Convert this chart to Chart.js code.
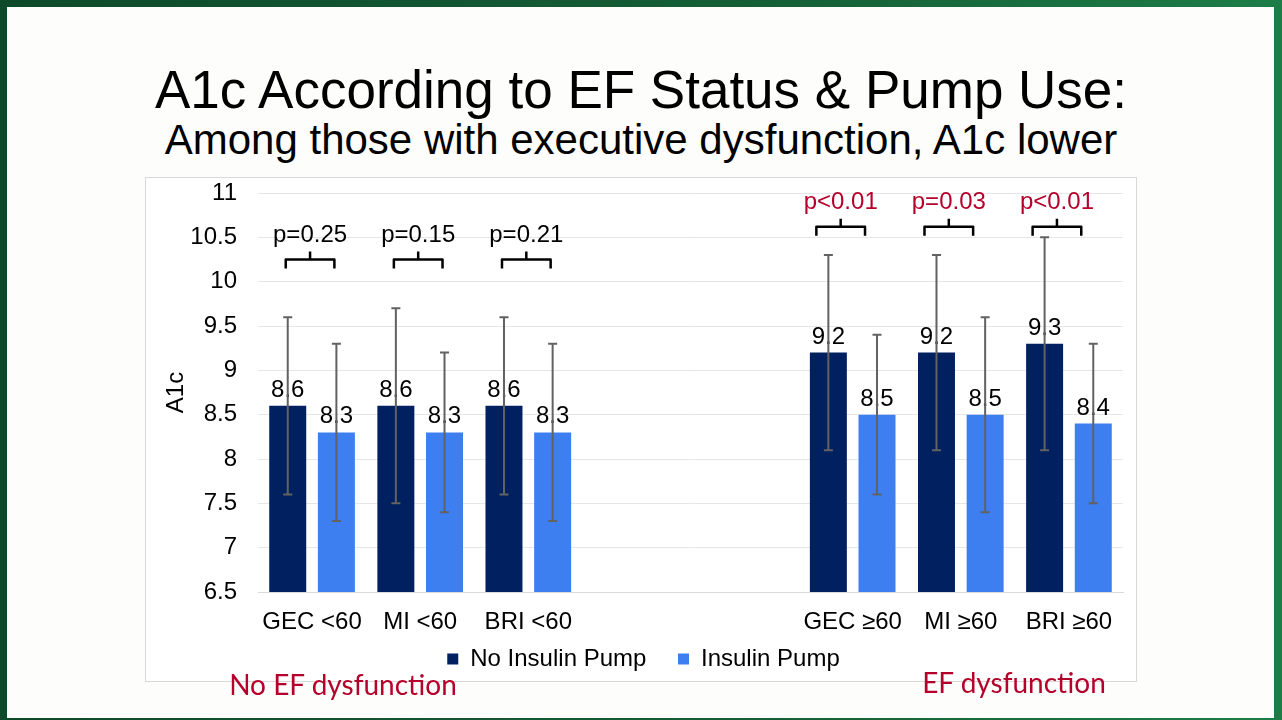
<!DOCTYPE html>
<html>
    <head>
        <meta charset="utf-8">
        <script src="https://cdn.jsdelivr.net/npm/chart.js@4.4.1/dist/chart.umd.min.js"></script>
        <style>
            body { margin: 0; width: 1282px; height: 720px; overflow: hidden;
                   background: linear-gradient(90deg, #0e4a2a 0%, #155f36 60%, #1d7d47 100%);
                   font-family: "Liberation Sans", Arial, sans-serif; }
            #slide { position: absolute; left: 7px; top: 7px; width: 1267px; height: 711px; background: #fdfdfb; }
            .title { position: absolute; left: 0; width: 1282px; text-align: center; color: #000; white-space: nowrap; }
            #t1 { top: 63px; font-size: 53px; line-height: 53px; }
            #t2 { top: 119px; font-size: 42px; line-height: 42px; }
            #box { position: absolute; left: 145px; top: 177px; width: 992px; height: 505px;
                   border: 1px solid #d9d9d9; box-sizing: border-box; background: #fff; }
            #wrap { position: relative; width: 990px; height: 503px; }
            .group { position: absolute; width: 400px; text-align: center; font-family: Lato, "Open Sans", sans-serif;
                     font-size: 28px; line-height: 28px; color: #b5002b; white-space: nowrap; }
        </style>
    </head>
    <body>
        <div id="slide"></div>
        <div class="title" id="t1">A1c According to EF Status &amp; Pump Use:</div>
        <div class="title" id="t2">Among those with executive dysfunction, A1c lower</div>
        <div id="box"><div id="wrap"><canvas id="myChart"></canvas></div></div>
        <div class="group" style="left:143px; top:670px;">No EF dysfunction</div>
        <div class="group" style="left:814px; top:668px;">EF dysfunction</div>

        <script>
            // DATA (two empty slots separate the groups)
            const categories = ['GEC <60', 'MI <60', 'BRI <60', '', '', 'GEC ≥60', 'MI ≥60', 'BRI ≥60'];
            const noPump     = [8.6, 8.6, 8.6, null, null, 9.2, 9.2, 9.3];
            const noPumpLow  = [7.6, 7.5, 7.6, null, null, 8.1, 8.1, 8.1];
            const noPumpHigh = [9.6, 9.7, 9.6, null, null, 10.3, 10.3, 10.5];
            const pump       = [8.3, 8.3, 8.3, null, null, 8.5, 8.5, 8.4];
            const pumpLow    = [7.3, 7.4, 7.3, null, null, 7.6, 7.4, 7.5];
            const pumpHigh   = [9.3, 9.2, 9.3, null, null, 9.4, 9.6, 9.3];
            const pLabels    = ['p=0.25', 'p=0.15', 'p=0.21', '', '', 'p<0.01', 'p=0.03', 'p<0.01'];

            const FONT = '"Liberation Sans", Arial, sans-serif';

            // value labels, error bars and p-value brackets
            const annotate = {
                id: 'annotate',
                afterDatasetsDraw(chart) {
                    const ctx = chart.ctx;
                    const y = chart.scales.y;
                    ctx.save();
                    ctx.font = '24px ' + FONT;
                    ctx.textAlign = 'center';
                    ctx.textBaseline = 'alphabetic';
                    ctx.fillStyle = '#000';
                    chart.data.datasets.forEach((ds, i) => {
                        chart.getDatasetMeta(i).data.forEach((bar, j) => {
                            if (ds.data[j] == null) return;
                            ctx.fillText(ds.data[j].toFixed(1), bar.x, bar.y - 9);
                        });
                    });

                    ctx.strokeStyle = '#626262';
                    ctx.lineWidth = 2;
                    chart.data.datasets.forEach((ds, i) => {
                        chart.getDatasetMeta(i).data.forEach((bar, j) => {
                            if (ds.errLow[j] == null) return;
                            const y1 = y.getPixelForValue(ds.errLow[j]);
                            const y2 = y.getPixelForValue(ds.errHigh[j]);
                            ctx.beginPath();
                            ctx.moveTo(bar.x, y1); ctx.lineTo(bar.x, y2);
                            ctx.moveTo(bar.x - 4.5, y1); ctx.lineTo(bar.x + 4.5, y1);
                            ctx.moveTo(bar.x - 4.5, y2); ctx.lineTo(bar.x + 4.5, y2);
                            ctx.stroke();
                        });
                    });

                    const m0 = chart.getDatasetMeta(0).data, m1 = chart.getDatasetMeta(1).data;
                    ctx.lineWidth = 2.5;
                    ctx.lineJoin = 'round';
                    ctx.strokeStyle = '#000';
                    pLabels.forEach((txt, j) => {
                        if (!txt) return;
                        const right = j > 3;
                        const shift = right ? -12 : -2;
                        const x0 = m0[j].x + shift, x1 = m1[j].x + shift, xm = (x0 + x1) / 2;
                        const yb = y.getPixelForValue(right ? 10.62 : 10.25);
                        ctx.beginPath();
                        ctx.moveTo(x0, yb + 9); ctx.lineTo(x0, yb); ctx.lineTo(x1, yb); ctx.lineTo(x1, yb + 9);
                        ctx.moveTo(xm, yb); ctx.lineTo(xm, yb - 8);
                        ctx.stroke();
                        ctx.fillStyle = parseFloat(txt.slice(2)) < 0.05 ? '#b5002b' : '#000';
                        ctx.fillText(txt, xm, yb - 18);
                    });
                    ctx.restore();
                }
            };

            const data = {
                labels: categories,
                datasets: [{
                    label: 'No Insulin Pump',
                    data: noPump,
                    errLow: noPumpLow,
                    errHigh: noPumpHigh,
                    backgroundColor: '#002060',
                    borderWidth: 0,
                    categoryPercentage: 0.9,
                    barPercentage: 0.76
                }, {
                    label: 'Insulin Pump',
                    data: pump,
                    errLow: pumpLow,
                    errHigh: pumpHigh,
                    backgroundColor: '#3d7ef0',
                    borderWidth: 0,
                    categoryPercentage: 0.9,
                    barPercentage: 0.76
                }]
            };

            const config = {
                type: 'bar',
                data,
                plugins: [annotate],
                options: {
                    responsive: true,
                    maintainAspectRatio: false,
                    animation: false,
                    layout: { padding: { top: 15, right: 13, bottom: 0, left: 18 } },
                    plugins: {
                        tooltip: { enabled: false },
                        legend: {
                            position: 'bottom',
                            labels: {
                                boxWidth: 11,
                                boxHeight: 11,
                                padding: 5,
                                color: '#000',
                                font: { family: FONT, size: 24 },
                                generateLabels(chart) {
                                    const items = Chart.defaults.plugins.legend.labels.generateLabels(chart);
                                    items[0].text += '    ';
                                    return items;
                                }
                            }
                        }
                    },
                    scales: {
                        x: {
                            afterFit: s => { s.height = 50; },
                            grid: { display: false, drawTicks: false },
                            border: { color: '#d9d9d9' },
                            ticks: { color: '#000', padding: 16, maxRotation: 0, autoSkip: false,
                                     font: { family: FONT, size: 24 } }
                        },
                        y: {
                            min: 6.5,
                            max: 11,
                            afterFit: s => { s.width = 94; },
                            grid: { color: '#e6e6e6', tickLength: 21, tickColor: 'rgba(0,0,0,0)' },
                            border: { display: false },
                            ticks: { stepSize: 0.5, color: '#000', padding: 0,
                                     callback: v => String(v),
                                     font: { family: FONT, size: 24 } },
                            title: { display: true, text: 'A1c', color: '#000',
                                     padding: { top: -2, bottom: 0 },
                                     font: { family: FONT, size: 24 } }
                        }
                    }
                }
            };

            const myChart = new Chart(document.getElementById('myChart'), config);
        </script>
    </body>
</html>
